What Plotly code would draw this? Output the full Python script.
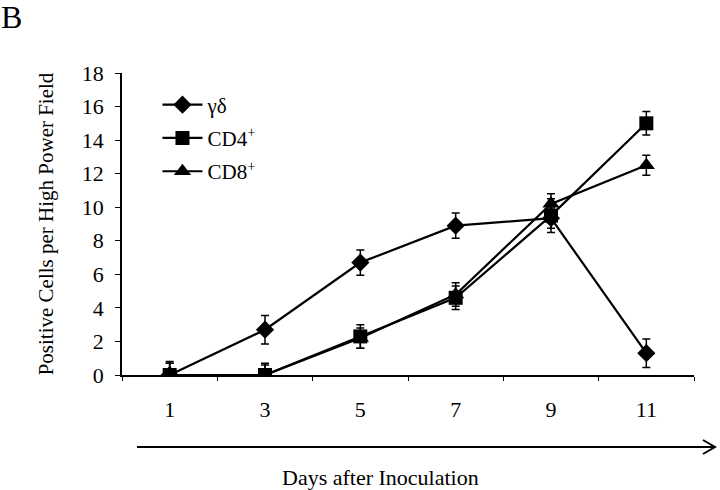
import plotly.graph_objects as go

days = ["1", "3", "5", "7", "9", "11"]
gd_vals = [0.0, 2.7, 6.7, 8.9, 9.35, 1.3]
gd_err = [0.7, 0.85, 0.75, 0.75, 0.6, 0.85]
cd4_vals = [0.0, 0.0, 2.3, 4.6, 9.5, 15.0]
cd4_err = [0.8, 0.7, 0.7, 0.7, 1.0, 0.7]
cd8_vals = [0.0, 0.0, 2.2, 4.8, 10.2, 12.5]
cd8_err = [0.7, 0.6, 0.6, 0.7, 0.6, 0.6]
y_ticks = [0, 2, 4, 6, 8, 10, 12, 14, 16, 18]

FONT = "Liberation Serif, Times New Roman, serif"

series = [
    ("γδ", gd_vals, gd_err, "diamond", 14),
    ("CD8<sup>+</sup>", cd8_vals, cd8_err, "triangle-up", 15),
    ("CD4<sup>+</sup>", cd4_vals, cd4_err, "square", 14),
]
legend_rank = {"γδ": 1, "CD4<sup>+</sup>": 2, "CD8<sup>+</sup>": 3}

fig = go.Figure()
for i, (name, vals, err, sym, size) in enumerate(series):
    fig.add_trace(go.Scatter(
        x=days, y=vals, name=name, mode="lines+markers",
        legendgroup=f"g{i}", legendrank=legend_rank[name],
        line=dict(color="black", width=2.2),
        marker=dict(symbol=sym, size=size, color="black"),
        error_y=dict(type="data", array=err, visible=True, color="black",
                     thickness=1.5, width=4),
    ))

fig.update_layout(
    width=720, height=490,
    margin=dict(l=122, r=26, t=73, b=115, autoexpand=False),
    paper_bgcolor="white", plot_bgcolor="white",
    font=dict(family=FONT, size=22, color="black"),
    showlegend=True,
    legend=dict(x=0.062, y=0.962, xanchor="left", yanchor="top",
                bgcolor="rgba(0,0,0,0)", tracegroupgap=3,
                itemwidth=40,
                font=dict(family=FONT, size=21)),
    xaxis=dict(type="category", range=[-0.5, 5.5], showline=True,
               linecolor="black", linewidth=1.5, ticks="outside",
               tickson="boundaries", ticklen=4, tickcolor="black",
               showgrid=False, zeroline=False, ticklabelstandoff=14,
               automargin=False,
               tickfont=dict(family=FONT, size=22)),
    yaxis=dict(range=[0, 18], tickvals=y_ticks, showline=True,
               linecolor="black", linewidth=1.5, ticks="outside",
               ticklen=5, tickcolor="black", showgrid=False,
               zeroline=False, ticklabelstandoff=7, automargin=False,
               title=dict(text="Positive Cells per High Power Field",
                          font=dict(family=FONT, size=21), standoff=22),
               tickfont=dict(family=FONT, size=22)),
)

# Panel letter
fig.add_annotation(x=0, y=1, xref="paper", yref="paper", text="B",
                   showarrow=False, xanchor="left", yanchor="top",
                   font=dict(family=FONT, size=32), xshift=-123, yshift=76)

# Arrow below the axis
ay = -(447 - 375) / 302
fig.add_shape(type="line", xref="paper", yref="paper",
              x0=(137 - 122) / 572, x1=(714 - 122) / 572,
              y0=ay, y1=ay, line=dict(color="black", width=2))
fig.add_shape(type="path", xref="paper", yref="paper",
              path=(f"M {(703-122)/572} {-(440-375)/302} "
                    f"L {(715-122)/572} {ay} "
                    f"L {(703-122)/572} {-(454-375)/302}"),
              line=dict(color="black", width=2))
fig.add_annotation(x=(380 - 122) / 572, y=-(477 - 375) / 302, xref="paper",
                   yref="paper", text="Days after Inoculation",
                   xanchor="center", yanchor="middle",
                   showarrow=False, font=dict(family=FONT, size=22))

fig.write_html("out.html",
               config={"displayModeBar": False},
               post_script="document.body.style.margin='0';"
                           "document.body.style.overflow='hidden';")
